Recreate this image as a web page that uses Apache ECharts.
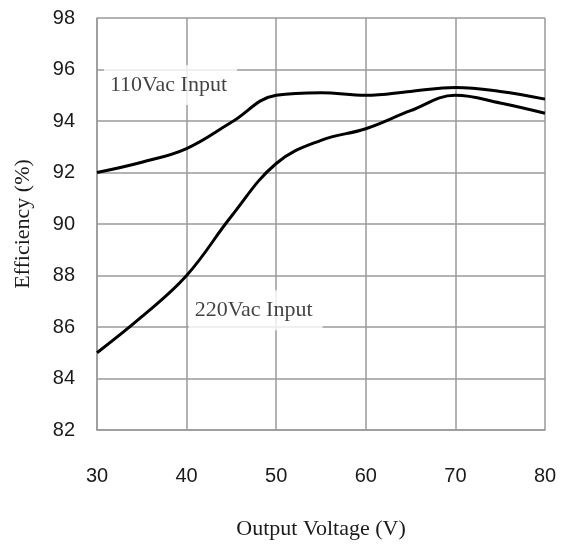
<!DOCTYPE html>
<html><head><meta charset="utf-8">
<script src="https://cdn.jsdelivr.net/npm/echarts@6/dist/echarts.min.js"></script>
<style>html,body{margin:0;padding:0;background:#fff;}#c{width:566px;height:552px;}</style>
</head><body><div id="c"></div>
<script>
var xTicks = [30, 40, 50, 60, 70, 80];
var yTicks = [82, 84, 86, 88, 90, 92, 94, 96, 98];
var v110x = [30, 35, 40, 45, 50, 55, 60, 65, 70, 75, 80];
var v110y = [92.0, 92.4, 92.93, 93.95, 95.0, 95.1, 95.0, 95.15, 95.3, 95.15, 94.85];
var v220x = [30, 35, 40, 45, 50, 55, 60, 65, 70, 75, 80];
var v220y = [85.0, 86.4, 88.0, 90.3, 92.35, 93.25, 93.7, 94.4, 95.0, 94.7, 94.3];
var labels = [{name: '110Vac Input', x: 38.2, y: 95.4}, {name: '220Vac Input', x: 47.7, y: 86.65}];

function pairs(xs, ys) { return xs.map(function (x, i) { return [x, ys[i]]; }); }

var chart = echarts.init(document.getElementById('c'));
var grid = '#9a9a9a';
chart.setOption({
  animation: false,
  grid: {left: 97, right: 21, top: 18, bottom: 122, show: false},
  xAxis: {
    type: 'value', min: 30, max: 80, interval: 10,
    axisLine: {show: true, lineStyle: {color: grid, width: 1.5}},
    axisTick: {show: false},
    splitLine: {show: true, lineStyle: {color: grid, width: 1.5}},
    axisLabel: {color: '#1a1a1a', fontFamily: 'Liberation Sans', fontSize: 20, margin: 36},
    name: 'Output Voltage (V)', nameLocation: 'middle', nameGap: 88,
    nameTextStyle: {color: '#1a1a1a', fontFamily: 'Liberation Serif', fontSize: 22}
  },
  yAxis: {
    type: 'value', min: 82, max: 98, interval: 2,
    axisLine: {show: true, lineStyle: {color: grid, width: 1.5}},
    axisTick: {show: false},
    splitLine: {show: true, lineStyle: {color: grid, width: 1.5}},
    axisLabel: {color: '#1a1a1a', fontFamily: 'Liberation Sans', fontSize: 20, margin: 22},
    name: 'Efficiency (%)', nameLocation: 'middle', nameGap: 63, nameRotate: 90,
    nameTextStyle: {color: '#1a1a1a', fontFamily: 'Liberation Serif', fontSize: 22}
  },
  series: [
    {type: 'line', smooth: 0.4, symbol: 'none', data: pairs(v110x, v110y),
     lineStyle: {color: '#000', width: 3}, z: 3},
    {type: 'line', smooth: 0.4, symbol: 'none', data: pairs(v220x, v220y),
     lineStyle: {color: '#000', width: 3}, z: 3},
    {type: 'scatter', symbolSize: 0, data: labels.map(function (l) { return {name: l.name, value: [l.x, l.y]}; }),
     z: 2,
     label: {show: true, position: 'inside', formatter: '{b}', color: '#111',
       fontFamily: 'Liberation Serif', fontSize: 22, backgroundColor: '#fff',
       padding: [9, 10, 9, 6]}}
  ]
});
</script></body></html>
